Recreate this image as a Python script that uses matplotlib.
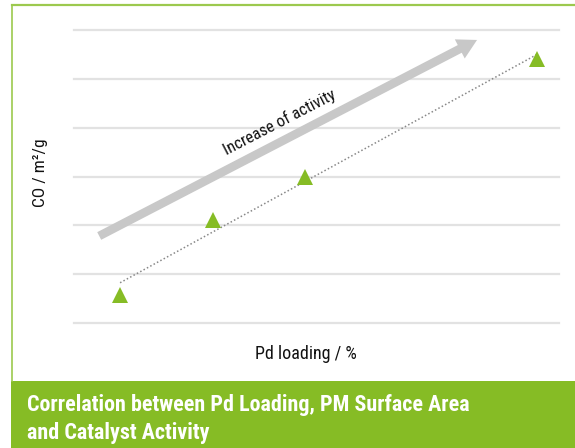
import numpy as np
import matplotlib.pyplot as plt
from matplotlib.patches import Rectangle, FancyArrowPatch
from matplotlib.lines import Line2D

# data (arbitrary units)
pd_loading = [0.95, 2.86, 4.76, 9.54]
co_area = [0.58, 2.11, 2.99, 5.40]
grid_levels = [0, 1, 2, 3, 4, 5, 6]

green = '#86bc25'
fonts = ['Roboto Condensed', 'DejaVu Sans']

W, H = 575, 448
fig = plt.figure(figsize=(W / 100, H / 100), dpi=100)
ax = fig.add_axes([74 / W, (H - 323) / H, 485 / W, 293 / H])

# trend line through the points
k, b = np.polyfit(pd_loading, co_area, 1)
xs = np.array([pd_loading[0], pd_loading[-1]])
ax.plot(xs, k * xs + b, color='#888888', lw=1.1, ls=(0, (1, 1.5)), zorder=2)

ax.plot(pd_loading, co_area, ls='none', marker='^', ms=11,
        color=green, markeredgewidth=0, zorder=3)

ax.set_xlim(0, 10)
ax.set_ylim(0, 6)
ax.set_yticks(grid_levels)
ax.set_xticks([])
ax.grid(axis='y', color='#e2e2e2', lw=1.6)
for gl in ax.get_ygridlines():
    gl.set_clip_on(False)
ax.tick_params(left=False, labelleft=False)
for s in ax.spines.values():
    s.set_visible(False)
ax.set_axisbelow(True)

# big arrow
arr = FancyArrowPatch((0.052, 0.297), (0.831, 0.966), transform=ax.transAxes,
                      arrowstyle='simple,head_width=1.55,head_length=1.4,tail_width=0.62',
                      mutation_scale=10, shrinkA=0, shrinkB=0,
                      color='#c8c8c8', lw=0, zorder=1)
ax.add_patch(arr)
ax.text(0.423, 0.686, 'Increase of activity', transform=ax.transAxes,
        rotation=27.4, rotation_mode='anchor', ha='center', va='center',
        fontsize=12, family=fonts, color='#111111')

# axis labels
fig.text(40 / W, 1 - 173 / H, 'CO / m²/g', rotation=90, ha='center', va='center',
         fontsize=12.5, family=fonts, color='#111111')
fig.text(306 / W, 1 - 354 / H, 'Pd loading / %', ha='center', va='center',
         fontsize=13, family=fonts, color='#111111')

# frame and title band
fig.add_artist(Line2D([12 / W, 12 / W], [1 - 5 / H, 1 - 381 / H], color='#9cc94e', lw=1.2))
fig.add_artist(Line2D([12 / W, 1], [1 - 5 / H, 1 - 5 / H], color='#9cc94e', lw=1.6))
fig.add_artist(Rectangle((11 / W, 0), 1 - 11 / W, (H - 381) / H,
                         transform=fig.transFigure, color=green, lw=0))
fig.text(27 / W, 1 - 405 / H, 'Correlation between Pd Loading, PM Surface Area',
         ha='left', va='center', fontsize=15.8, fontweight='bold', family=fonts, color='white')
fig.text(27 / W, 1 - 433 / H, 'and Catalyst Activity',
         ha='left', va='center', fontsize=15.8, fontweight='bold', family=fonts, color='white')

fig.savefig('out.png', dpi=100)
